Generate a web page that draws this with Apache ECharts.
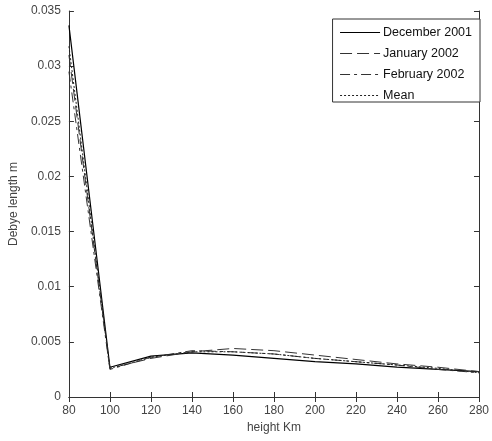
<!DOCTYPE html>
<html><head><meta charset="utf-8">
<script src="https://cdn.jsdelivr.net/npm/echarts@6/dist/echarts.min.js"></script>
<style>html,body{margin:0;padding:0;background:#fff}#c{width:492px;height:441px}</style>
</head><body><div id="c"></div>
<script>
const heights = [80, 100, 120, 140, 160, 180, 200, 220, 240, 260, 280];
const dec2001 = [0.0337, 0.0027, 0.0037, 0.0040, 0.0038, 0.0035, 0.0032, 0.0030, 0.0027, 0.0025, 0.0023];
const jan2002 = [0.0310, 0.0026, 0.0035, 0.0041, 0.0044, 0.0042, 0.0038, 0.0034, 0.0030, 0.0027, 0.0023];
const feb2002 = [0.0295, 0.0025, 0.0036, 0.0042, 0.0041, 0.0039, 0.0035, 0.0032, 0.0029, 0.0025, 0.0022];
const meanVals = [0.0318, 0.0026, 0.0036, 0.0041, 0.0041, 0.0039, 0.0035, 0.0032, 0.0029, 0.0026, 0.0022];
const seriesNames = ['December 2001', 'January 2002', 'February 2002', 'Mean'];

const chart = echarts.init(document.getElementById('c'));
const font = 'Liberation Sans, Arial, sans-serif';
const lab = {color: '#444', fontFamily: font, fontSize: 12};
const pair = arr => heights.map((h, i) => [h, arr[i]]);
function mk(name, data, color, type, width) {
  return {name, type: 'line', data: pair(data), symbol: 'none', animation: false,
    lineStyle: {color, type, width}, itemStyle: {color}};
}
chart.setOption({
  animation: false,
  grid: {left: 62, right: 10, top: 11, bottom: 44},
  legend: {
    right: 12, top: 19, orient: 'vertical', itemWidth: 40, itemHeight: 10, itemGap: 8,
    backgroundColor: '#fff', borderColor: '#333', borderWidth: 1, borderRadius: 0,
    padding: [7, 8, 0, 7],
    itemStyle: {opacity: 0},
    lineStyle: {width: 1},
    textStyle: {color: '#111', fontFamily: font, fontSize: 12.5, padding: [0, 0, 0, -2]},
    data: seriesNames
  },
  xAxis: [{
    type: 'value', min: 80, max: 280, interval: 20,
    name: 'height Km', nameLocation: 'middle', nameGap: 25,
    nameTextStyle: lab,
    axisLine: {lineStyle: {color: '#333'}},
    axisTick: {inside: true, length: 5, lineStyle: {color: '#333'}},
    axisLabel: lab, splitLine: {show: false}
  }, {
    type: 'value', min: 80, max: 280, interval: 20, position: 'top',
    axisLine: {show: true, lineStyle: {color: '#333'}},
    axisTick: {inside: true, length: 5, lineStyle: {color: '#333'}},
    axisLabel: {show: false}, splitLine: {show: false}
  }],
  yAxis: [{
    type: 'value', min: 0, max: 0.035, interval: 0.005,
    name: 'Debye length m', nameLocation: 'middle', nameGap: 44,
    nameTextStyle: lab,
    axisLine: {show: true, lineStyle: {color: '#333'}},
    axisTick: {show: true, inside: true, length: 5, lineStyle: {color: '#333'}},
    axisLabel: lab, splitLine: {show: false}
  }, {
    type: 'value', min: 0, max: 0.035, interval: 0.005, position: 'right',
    axisLine: {show: true, lineStyle: {color: '#333'}},
    axisTick: {show: true, inside: true, length: 5, lineStyle: {color: '#333'}},
    axisLabel: {show: false}, splitLine: {show: false}
  }],
  series: [
    mk(seriesNames[0], dec2001, '#000', 'solid', 1.2),
    mk(seriesNames[1], jan2002, '#333', [12, 5], 1),
    mk(seriesNames[2], feb2002, '#333', [10, 4, 3, 4], 1),
    mk(seriesNames[3], meanVals, '#222', [2, 2], 1)
  ]
});
</script></body></html>
